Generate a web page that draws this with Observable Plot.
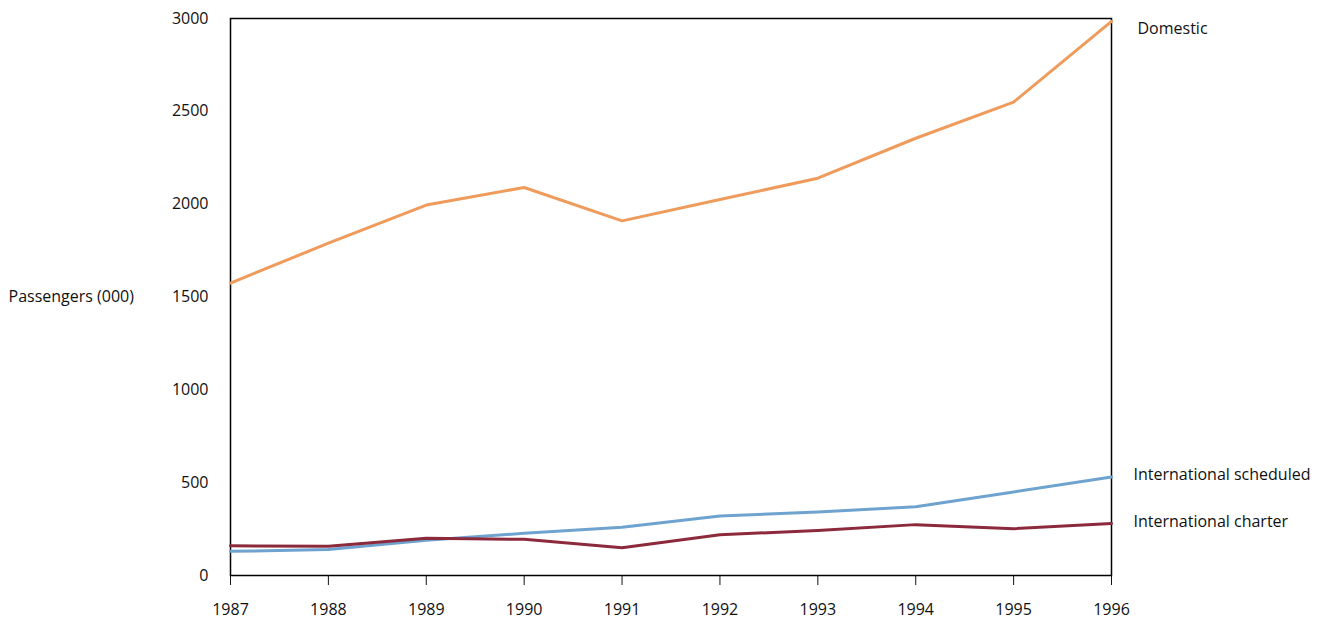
<!DOCTYPE html>
<html>
<head>
<meta charset="utf-8">
<script src="https://cdn.jsdelivr.net/npm/d3@7"></script>
<script src="https://cdn.jsdelivr.net/npm/@observablehq/plot@0.6"></script>
<style>
  html, body { margin: 0; padding: 0; background: #fff; }
  svg { font-family: "Open Sans", "Noto Sans", sans-serif; }
</style>
</head>
<body>
<div id="chart"></div>
<script>
const years = [1987, 1988, 1989, 1990, 1991, 1992, 1993, 1994, 1995, 1996];
const domestic = [1575, 1790, 1995, 2090, 1910, 2025, 2140, 2355, 2550, 2985];
const intlScheduled = [130, 140, 190, 227, 260, 320, 342, 370, 450, 530];
const intlCharter = [160, 158, 200, 195, 150, 220, 242, 274, 252, 280];
const seriesNames = ["Domestic", "International scheduled", "International charter"];
const seriesColors = ["#ef9b5c", "#6fa3cf", "#8c2a3c"];
const yTicks = [0, 500, 1000, 1500, 2000, 2500, 3000];
const yLabel = "Passengers (000)";

const seriesValues = [domestic, intlScheduled, intlCharter];
const rows = seriesNames.flatMap((name, i) =>
  years.map((year, j) => ({ series: name, year, value: seriesValues[i][j] })));
const lastRows = seriesNames.map((name, i) => ({ series: name, year: years[years.length - 1], value: seriesValues[i][years.length - 1] }));

const FS = 16;
const chart = Plot.plot({
  width: 1326,
  height: 622,
  marginLeft: 230,
  marginRight: 215,
  marginTop: 18,
  marginBottom: 47,
  style: { fontSize: FS + "px", fontFamily: "'Open Sans', 'Noto Sans', sans-serif", color: "#111" },
  x: { domain: [1987, 1996] },
  y: { domain: [0, 3000] },
  color: { domain: seriesNames, range: seriesColors },
  marks: [
    Plot.frame({ stroke: "#000", strokeWidth: 1.5 }),
    Plot.axisX({ ticks: years, tickFormat: d => String(d), tickSize: 10, tickPadding: 18, label: null, fontSize: FS }),
    Plot.axisY({ ticks: yTicks, tickFormat: d => String(d), tickSize: 0, tickPadding: 22, label: null, fontSize: FS }),
    Plot.line(rows, { x: "year", y: "value", z: "series", stroke: "series", strokeWidth: 3, curve: "linear" }),
    Plot.text(lastRows.slice(0, 1), { x: "year", y: "value", text: "series", textAnchor: "start", dx: 26, dy: 8, fontSize: FS, fill: "#111" }),
    Plot.text(lastRows.slice(1), { x: "year", y: "value", text: "series", textAnchor: "start", dx: 22, dy: -2, fontSize: FS, fill: "#111" }),
    Plot.text([yLabel], { frameAnchor: "left", dx: -222, textAnchor: "start", fontSize: FS, fill: "#111" })
  ]
});
document.getElementById("chart").appendChild(chart);
</script>
</body>
</html>
